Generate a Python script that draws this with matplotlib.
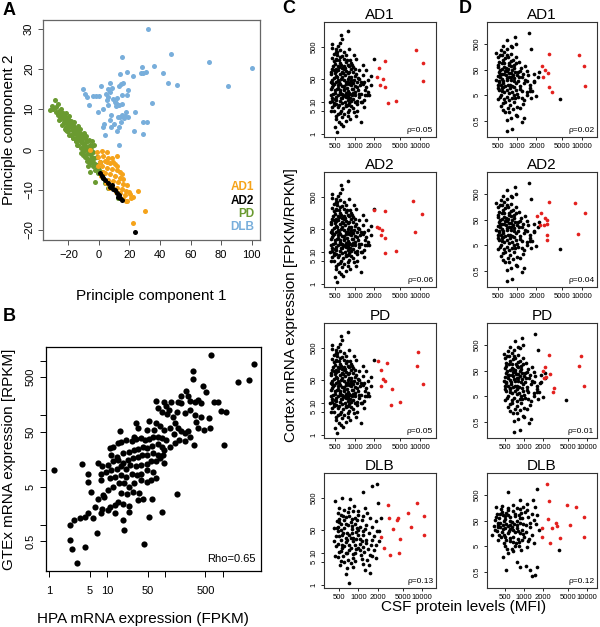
import numpy as np
import matplotlib
matplotlib.use('Agg')
import matplotlib.pyplot as plt
from matplotlib.ticker import NullLocator

# ---------------- data ----------------
# panel A: principal components (PC1, PC2)
pd_pc = [(-28.5, 12.3), (-32.0, 9.9), (-28.1, 9.4), (-26.5, 8.6), (-25.0, 8.2), (-25.9, 7.4), (-23.7, 7.8),
         (-22.8, 6.9), (-24.4, 6.1), (-21.1, 6.5), (-21.5, 5.5), (-19.3, 5.7), (-20.0, 4.5), (-17.8, 4.9),
         (-18.5, 3.6), (-16.3, 4.0), (-16.7, 2.8), (-14.5, 3.2), (-15.0, 2.0), (-12.8, 2.4), (-13.5, 1.0),
         (-11.3, 1.6), (-11.9, 0.3), (-9.7, 0.7), (-10.2, -0.5), (-8.0, -0.1), (-8.4, -1.3), (-6.3, -0.9),
         (-6.9, -2.3), (-4.7, -1.8), (-5.8, -3.4), (-3.6, -3.0), (-4.1, -4.2), (-2.6, -5.1), (-1.5, -3.8),
         (-0.4, -5.9), (-2.6, -8.0), (2.9, -7.1), (4.0, -8.4), (6.2, -9.6), (12.7, -12.0), (-8.0, 2.0),
         (-5.8, 1.1), (-25.5, 9.4), (-22.2, 8.2), (-18.9, 6.9), (-15.6, 5.3), (-12.4, 4.0), (-9.1, 2.8),
         (-16.7, 6.1), (-13.5, 4.9), (-10.6, 3.5), (-7.6, 0.7), (-5.4, -0.1), (-23.3, 9.0), (-20.0, 7.6),
         (-17.8, 6.1), (-14.5, 4.5), (-11.3, 2.6), (-8.4, 1.8), (-4.7, 2.0), (-3.6, -0.5), (-1.5, -1.8),
         (0.7, -3.0), (-0.4, -4.7), (1.8, -5.5), (-5.8, -5.5), (-6.9, -4.2), (-29.8, 10.1), (-25.5, 7.5),
         (-21.5, 4.9), (-21.1, 4.5), (-17.2, 2.8), (-14.1, 1.0), (-10.6, -1.3), (-30.5, 10.8), (-27.8, 10.5),
         (-26.0, 9.6), (-24.2, 8.8), (-22.5, 7.8), (-20.8, 7.2), (-19.0, 6.2), (-17.5, 5.5), (-16.0, 4.8),
         (-14.8, 3.9), (-13.2, 3.3), (-12.0, 2.5), (-10.8, 1.9), (-9.5, 1.2), (-8.8, 0.2), (-7.2, -0.4),
         (-6.0, -1.2), (-4.9, -2.5), (-3.2, -2.0), (-2.5, -3.5), (-1.0, -4.5), (0.3, -5.2), (1.5, -6.3),
         (2.5, -5.8), (-26.8, 11.2), (-24.5, 10.0), (-21.8, 9.0), (-19.8, 8.3), (-18.0, 7.2), (-16.2, 6.8),
         (-14.0, 5.8), (-12.2, 5.0), (-10.0, 4.2), (-8.2, 3.4), (-6.5, 2.4), (-4.5, 0.8), (-3.0, 1.2),
         (-27.0, 9.0), (-23.0, 6.5), (-22.0, 5.0), (-19.5, 3.5), (-15.0, 2.0), (-10.0, 0.0), (-11.5, -0.8),
         (-9.0, -1.8), (-7.5, -2.8)]
ad1_pc = [(-1.5, -0.5), (1.8, -0.3), (5.1, -0.7), (-0.4, -1.8), (2.9, -1.5), (6.2, -2.0), (8.4, -2.2),
          (0.7, -3.0), (4.0, -2.8), (7.3, -3.4), (10.5, -3.7), (1.8, -4.2), (5.1, -4.7), (8.4, -4.8),
          (11.6, -5.1), (13.8, -5.5), (4.0, -5.9), (7.3, -6.2), (10.5, -6.5), (13.8, -7.0), (16.0, -7.3),
          (6.2, -7.6), (9.4, -7.8), (12.7, -8.2), (16.0, -8.6), (18.6, -8.8), (8.4, -9.0), (11.6, -9.5),
          (14.9, -9.8), (17.7, -10.3), (19.9, -10.5), (13.8, -10.9), (17.1, -11.3), (20.3, -11.1),
          (16.0, -12.3), (18.6, -12.8), (20.8, -12.1), (22.5, -11.7), (11.6, -1.5), (25.4, -10.2),
          (30.2, -15.4), (22.1, -18.3), (17.5, -12.7), (-5.8, -0.1), (9.4, -3.0), (12.1, -4.0), (14.9, -6.2),
          (5.1, -3.0), (2.5, -5.5), (11.2, -10.5), (4.6, -8.4), (6.8, -9.6), (-0.4, -4.2), (1.2, -6.7)]
ad2_pc = [(0.7, -5.9), (2.9, -7.1), (6.2, -8.4), (8.4, -8.8), (10.5, -10.0), (13.4, -11.3), (14.9, -12.5),
          (23.6, -20.6), (4.0, -7.5), (11.6, -10.8), (7.3, -9.2), (12.7, -11.8), (1.8, -6.5), (9.4, -9.8),
          (14.0, -12.0)]
dlb_pc = [(32, 30), (15.3, 23.1), (47, 23.7), (72.3, 21.7), (100.4, 20.3), (84.7, 15.9), (28.4, 20.6),
          (35.8, 20.8), (41.7, 19), (45.2, 16.5), (50.9, 16.1), (27.5, 19), (29, 19), (30.5, 19.2), (22, 18.3),
          (18.1, 19.2), (13.7, 18.7), (7.3, 16.5), (14.5, 16.2), (15.5, 16.5), (13.4, 15.8), (19, 14.7),
          (5.7, 15.1), (7.3, 14.2), (8.7, 15.2), (1.1, 15.7), (-10.2, 15.1), (-9.3, 13.9), (-8, 13),
          (-6.3, 11), (-4.1, 13.2), (-1.9, 13.2), (0.1, 13.4), (2.5, 10), (-0.4, 9.4), (6.2, 11.1),
          (10.3, 11.8), (11.6, 12.8), (11.4, 11.5), (13.4, 11.1), (12.1, 11.1), (15.1, 11.4), (5.7, 13),
          (5.1, 12.2), (4.6, 13.8), (9.2, 12.6), (11, 10.7), (8.1, 8.6), (7.5, 7.4), (3.6, 6.3), (9.9, 6.4),
          (13.2, 5.5), (7.7, 5.5), (3.8, 3.5), (17.5, 9.4), (16.2, 7.8), (14, 8.2), (12.3, 8.2), (17.3, 8.4),
          (19.3, 8.1), (23.4, 9.3), (34.7, 11.5), (31.7, 6.8), (28.6, 6.8), (29.1, 3.9), (23, 4.6),
          (13.4, 1.1), (14.5, 6.8), (14.9, 8.6), (11.6, 4.5), (2.9, 5.7), (14.9, 13.6), (18.2, 13.6)]

# panel B: log10 HPA FPKM vs log10 GTEx RPKM
hpa_gtex_log = [(2.79, 3.10), (3.54, 2.94), (2.49, 2.81), (2.49, 2.67), (3.27, 2.61), (3.45, 2.64), (2.65, 2.53),
                (2.71, 2.43), (2.36, 2.45), (2.40, 2.36), (2.44, 2.27), (2.51, 2.25), (2.57, 2.29), (2.62, 2.22),
                (2.28, 2.35), (2.27, 2.22), (1.85, 2.27), (1.98, 2.25), (2.01, 2.17), (2.11, 2.24), (2.23, 2.24),
                (1.88, 2.13), (1.94, 2.07), (2.03, 2.03), (2.06, 2.10), (2.20, 2.06), (2.34, 2.05), (2.43, 2.10),
                (2.51, 2.01), (2.63, 1.98), (2.85, 2.24), (2.91, 2.25), (2.97, 2.09), (3.06, 2.07), (2.76, 1.96),
                (2.77, 1.77), (2.68, 1.74), (3.02, 1.46), (2.50, 1.46), (2.34, 1.54), (2.43, 1.61), (2.53, 1.88),
                (2.57, 1.78), (2.14, 1.98), (2.17, 1.86), (2.23, 1.78), (2.27, 1.72), (2.34, 1.68), (2.40, 1.72),
                (1.72, 1.90), (1.85, 1.86), (1.80, 1.74), (1.91, 1.81), (1.99, 1.74), (2.08, 1.78), (2.16, 1.66),
                (2.24, 1.55), (2.17, 1.49), (2.08, 1.42), (1.49, 1.86), (1.53, 1.77), (1.68, 1.74), (1.22, 1.72),
                (1.46, 1.61), (1.04, 1.40), (1.10, 1.43), (1.18, 1.49), (1.24, 1.52), (1.33, 1.55), (1.42, 1.54),
                (1.49, 1.57), (1.59, 1.58), (1.65, 1.55), (1.72, 1.57), (1.79, 1.61), (1.88, 1.61), (1.95, 1.58),
                (2.02, 1.55), (1.07, 1.28), (1.16, 1.25), (1.27, 1.31), (1.37, 1.34), (1.46, 1.37), (1.54, 1.38),
                (1.62, 1.42), (1.69, 1.40), (1.77, 1.44), (1.87, 1.48), (1.94, 1.43), (1.99, 1.37), (0.84, 1.14),
                (0.91, 1.07), (1.01, 1.10), (1.10, 1.16), (1.18, 1.19), (1.27, 1.13), (1.36, 1.19), (1.45, 1.22),
                (1.53, 1.25), (1.60, 1.28), (1.69, 1.28), (1.79, 1.31), (1.88, 1.28), (1.97, 1.28), (1.99, 1.13),
                (0.90, 0.94), (0.98, 0.97), (1.07, 1.00), (1.17, 1.03), (1.24, 1.07), (1.33, 1.03), (1.40, 1.10),
                (1.50, 1.07), (1.59, 1.10), (1.68, 1.11), (1.76, 1.16), (1.85, 1.16), (1.92, 1.22), (0.66, 0.94),
                (0.90, 0.82), (1.04, 0.85), (1.13, 0.88), (1.24, 0.91), (1.33, 0.88), (1.42, 0.94), (1.52, 0.91),
                (1.59, 0.94), (1.68, 1.00), (1.79, 0.97), (0.66, 0.79), (0.72, 0.61), (0.92, 0.55), (1.01, 0.64),
                (1.10, 0.70), (1.20, 0.76), (1.29, 0.77), (1.37, 0.70), (1.47, 0.76), (1.58, 0.82), (1.68, 0.79),
                (1.76, 0.82), (1.85, 0.85), (0.56, 1.11), (0.84, 0.47), (0.95, 0.52), (1.04, 0.33), (1.13, 0.36),
                (1.24, 0.58), (1.35, 0.57), (1.45, 0.61), (1.55, 0.58), (1.62, 0.47), (0.78, 0.33), (0.91, 0.30),
                (1.01, 0.27), (1.18, 0.42), (1.27, 0.39), (1.37, 0.35), (1.53, 0.46), (0.61, 0.15), (0.66, 0.21),
                (0.75, 0.12), (0.90, 0.21), (1.13, 0.21), (1.27, 0.09), (1.37, 0.24), (0.36, 0.00), (0.43, 0.09),
                (0.53, 0.12), (0.82, -0.15), (1.29, -0.09), (1.72, 0.15), (1.94, 0.24), (2.21, 0.57), (1.77, 0.47),
                (0.35, -0.28), (0.39, -0.43), (0.61, -0.40), (0.48, -0.69), (1.64, -0.34), (0.08, 1.00)]
rho_b = 0.65

# panels C/D: log10 CSF protein level (MFI) vs log10 cortex mRNA
c_black = [(2.89, 3.19), (2.79, 3.09), (2.80, 2.94), (2.78, 2.82), (2.66, 2.67), (2.71, 2.65), (2.73, 2.56),
           (2.91, 2.63), (2.73, 2.44), (2.81, 2.42), (2.84, 2.33), (2.76, 2.28), (2.86, 2.23), (2.94, 2.21),
           (2.70, 2.18), (2.79, 2.13), (2.89, 2.13), (2.97, 2.07), (2.66, 2.02), (2.75, 1.97), (2.84, 2.00),
           (2.91, 1.92), (3.02, 1.87), (3.12, 2.13), (3.18, 1.99), (3.30, 2.33), (3.07, 1.71), (2.99, 1.66),
           (2.89, 1.71), (2.81, 1.76), (2.71, 1.81), (2.66, 1.66), (2.76, 1.61), (2.86, 1.55), (2.94, 1.50),
           (3.04, 1.45), (3.12, 1.55), (3.21, 1.66), (3.25, 1.81), (2.66, 1.45), (2.73, 1.38), (2.84, 1.35),
           (2.91, 1.27), (3.00, 1.31), (3.09, 1.24), (3.18, 1.45), (2.63, 1.19), (2.72, 1.14), (2.81, 1.11),
           (2.89, 1.06), (2.97, 1.09), (3.07, 1.14), (3.16, 1.19), (3.25, 1.50), (2.68, 0.96), (2.76, 0.90),
           (2.86, 0.88), (2.94, 0.86), (3.04, 0.93), (2.66, 0.82), (2.79, 0.72), (2.89, 0.67), (2.99, 0.67),
           (3.09, 0.98), (3.19, 1.21), (2.71, 0.56), (2.81, 0.51), (2.76, 0.36), (2.89, 0.56), (3.02, 0.56),
           (2.79, 0.30), (2.73, 0.04), (3.10, 0.36), (2.66, 1.03), (2.63, 1.61), (2.63, 1.92), (2.71, 2.33),
           (3.02, 2.33), (3.07, 1.97), (3.22, 1.19), (3.14, 0.82), (2.85, 1.19), (2.94, 1.76), (2.77, 1.24),
           (2.71, 0.46), (2.68, 2.25), (2.74, 2.10), (2.80, 2.05), (2.87, 1.95), (2.70, 1.90), (2.78, 1.85),
           (2.85, 1.82), (2.92, 1.78), (2.69, 1.72), (2.75, 1.68), (2.83, 1.66), (2.90, 1.62), (2.97, 1.58),
           (2.68, 1.55), (2.74, 1.50), (2.80, 1.47), (2.88, 1.43), (2.96, 1.40), (2.70, 1.35), (2.78, 1.30),
           (2.86, 1.28), (2.93, 1.22), (2.67, 1.25), (2.74, 1.20), (2.82, 1.17), (2.90, 1.14), (2.70, 1.08),
           (2.78, 1.02), (2.85, 0.98), (2.92, 0.95), (2.72, 0.92), (2.82, 0.80), (2.95, 1.02), (3.00, 1.20),
           (3.05, 1.35), (3.10, 1.60), (3.00, 1.80), (2.95, 2.00), (2.78, 2.40), (2.83, 2.55), (2.69, 2.48),
           (2.99, 2.45), (3.13, 1.83), (3.16, 1.35), (3.04, 1.03), (2.87, 0.40), (2.64, 0.70), (2.93, 2.30),
           (2.75, 0.62), (3.15, 1.05), (2.65, 2.35), (2.72, 2.30), (2.77, 2.20), (2.83, 2.12), (2.88, 2.28),
           (2.96, 2.15), (2.67, 2.12), (2.72, 2.02), (2.81, 1.93), (2.89, 1.88), (2.97, 1.92), (2.64, 1.85),
           (2.73, 1.78), (2.79, 1.70), (2.87, 1.62), (2.95, 1.68), (3.03, 1.62), (2.65, 1.58), (2.72, 1.62),
           (2.78, 1.55), (2.84, 1.48), (2.92, 1.55), (3.00, 1.48), (2.63, 1.38), (2.70, 1.28), (2.77, 1.35),
           (2.83, 1.40), (2.90, 1.32), (2.97, 1.28), (3.06, 1.22), (2.65, 1.12), (2.72, 1.05), (2.79, 1.12),
           (2.87, 1.15), (2.93, 1.10), (3.01, 1.00), (2.68, 0.88), (2.74, 0.82), (2.80, 0.95), (2.90, 0.90),
           (2.98, 0.80), (2.69, 0.70), (2.77, 0.65), (2.84, 0.60), (2.92, 0.75), (2.68, 1.98), (2.76, 2.08),
           (2.85, 2.05), (2.92, 2.10), (3.01, 2.02), (2.71, 2.55), (2.77, 2.62), (2.86, 2.45), (2.66, 2.78),
           (2.74, 2.72), (2.96, 1.20), (3.08, 1.50), (3.14, 1.62), (3.20, 1.30), (3.11, 0.98), (3.04, 0.70),
           (2.82, 0.25), (2.70, 0.20), (2.93, 0.45), (2.67, 1.50), (2.75, 1.42), (2.81, 1.25), (2.89, 1.20),
           (2.62, 1.00), (2.94, 1.62), (2.71, 1.95), (2.82, 1.88), (3.05, 1.72), (2.98, 1.38), (2.87, 0.85)]
c_black_dlb = [(3.30, 3.14), (3.22, 3.06), (3.08, 2.89), (3.31, 2.56), (2.64, 2.62), (2.75, 2.70), (2.87, 2.68),
               (2.70, 2.39), (2.77, 2.34), (2.84, 2.26), (2.91, 2.30), (2.72, 2.18), (2.81, 2.10), (2.90, 2.05),
               (2.99, 2.18), (3.07, 2.13), (3.14, 2.23), (3.19, 2.07), (3.27, 1.97), (2.66, 1.97), (2.73, 1.89),
               (2.84, 1.85), (2.94, 1.89), (3.02, 1.81), (3.12, 1.87), (3.22, 1.81), (3.30, 1.66), (2.68, 1.66),
               (2.76, 1.61), (2.86, 1.55), (2.96, 1.64), (3.07, 1.55), (3.17, 1.61), (3.25, 1.50), (3.32, 1.35),
               (2.72, 1.40), (2.81, 1.32), (2.91, 1.35), (3.02, 1.26), (3.12, 1.29), (3.20, 1.22), (2.65, 1.19),
               (2.75, 1.14), (2.86, 1.08), (2.96, 1.11), (3.09, 1.03), (3.18, 0.93), (2.76, 0.88), (2.84, 0.77),
               (2.91, 0.82), (3.04, 0.93), (3.14, 0.77), (2.71, 0.62), (2.82, 0.51), (2.91, 0.56), (2.80, 0.32),
               (3.17, 0.62), (3.19, 0.35), (2.85, 0.04), (2.61, 1.35), (2.63, 0.88), (3.02, 1.08), (3.25, 1.08),
               (3.27, 0.82), (3.35, 2.07), (3.32, 1.66), (2.61, 1.76), (2.70, 2.05), (2.78, 2.00), (2.88, 1.95),
               (2.98, 2.00), (2.68, 1.80), (2.78, 1.75), (2.90, 1.72), (3.00, 1.70), (3.10, 1.72), (2.70, 1.50),
               (2.80, 1.45), (2.92, 1.45), (3.02, 1.42), (3.12, 1.40), (2.75, 1.25), (2.85, 1.22), (2.95, 1.25),
               (3.07, 1.16), (2.70, 1.02), (2.80, 0.98), (2.95, 0.97), (3.05, 0.80), (2.88, 0.68), (2.73, 0.75),
               (3.10, 0.45), (3.22, 1.40), (2.68, 2.22), (2.76, 2.15), (2.86, 2.15), (2.95, 2.08), (3.05, 2.00),
               (2.70, 1.95), (2.80, 1.90), (2.90, 1.82), (2.98, 1.75), (3.08, 1.68), (2.66, 1.78), (2.73, 1.70),
               (2.82, 1.62), (2.90, 1.60), (3.00, 1.55), (2.65, 1.50), (2.74, 1.55), (2.82, 1.40), (2.88, 1.45),
               (2.97, 1.42), (3.06, 1.35), (2.68, 1.28), (2.78, 1.20), (2.88, 1.15), (3.00, 1.15), (3.15, 1.10),
               (2.72, 1.05), (2.82, 1.00), (2.92, 0.95), (2.68, 0.85), (2.78, 0.70), (2.95, 0.75), (3.08, 0.65),
               (3.22, 0.90), (3.28, 1.25), (2.85, 2.40), (2.93, 2.45), (3.00, 2.30), (3.10, 2.40)]
c_red_ad1 = [(3.37, 2.05), (3.46, 2.26), (3.34, 1.75), (3.44, 1.69), (3.38, 1.53), (3.47, 1.46), (3.51, 0.96),
             (3.63, 1.02), (3.94, 2.62), (4.04, 2.20), (4.04, 1.63)]
c_red_ad2 = [(3.29, 2.28), (3.47, 2.25), (3.34, 1.76), (3.37, 1.73), (3.42, 1.68), (3.41, 1.50), (3.46, 1.42),
             (3.47, 0.96), (3.63, 1.03), (3.90, 2.59), (4.03, 2.18), (3.93, 1.61)]
c_red_pd = [(3.35, 2.28), (3.49, 2.23), (3.41, 2.02), (3.43, 1.74), (3.47, 1.66), (3.41, 1.50), (3.57, 1.43),
            (3.55, 0.93), (3.69, 1.01), (3.97, 2.57), (3.95, 2.15), (4.05, 1.57)]
c_red_dlb = [(3.46, 2.47), (3.48, 2.07), (3.63, 2.07), (3.61, 2.02), (3.54, 1.73), (3.78, 2.22), (3.92, 2.55),
             (3.82, 1.80), (4.03, 2.15), (4.03, 1.55), (3.66, 1.43), (3.36, 1.49), (3.40, 1.14), (3.50, 0.93),
             (3.64, 0.98)]
c_rho = [0.05, 0.06, 0.05, 0.13]

d_black = [(2.85, 2.84), (2.97, 2.96), (2.98, 2.71), (3.18, 3.12), (3.22, 2.50), (2.93, 2.57), (2.80, 2.39),
           (2.73, 2.28), (2.84, 2.28), (2.91, 2.31), (2.98, 2.18), (3.03, 1.99), (3.13, 1.83), (2.78, 2.09),
           (2.71, 1.89), (2.87, 1.96), (2.95, 1.89), (3.06, 1.76), (3.16, 1.66), (2.73, 1.70), (2.82, 1.63),
           (2.91, 1.56), (3.00, 1.50), (3.08, 1.43), (3.17, 1.50), (3.27, 1.53), (3.34, 1.60), (3.33, 1.43),
           (2.74, 1.40), (2.85, 1.30), (2.95, 1.26), (3.02, 1.24), (3.11, 1.17), (3.20, 1.11), (3.27, 1.24),
           (2.70, 1.11), (2.78, 1.04), (2.89, 0.98), (2.98, 0.91), (3.07, 0.85), (3.15, 0.82), (3.24, 0.85),
           (2.75, 0.72), (2.84, 0.65), (2.93, 0.59), (3.02, 0.65), (3.11, 0.52), (3.22, 0.61), (3.30, 0.69),
           (2.81, 0.43), (2.89, 0.33), (3.00, 0.26), (3.10, 0.35), (2.78, 0.13), (2.88, 0.04), (2.98, -0.07),
           (2.84, -0.26), (3.00, -0.10), (3.11, -0.17), (3.08, -0.35), (2.93, -0.61), (2.84, -0.69),
           (3.26, 1.21), (3.20, 0.85), (2.95, 1.76), (2.76, 1.95), (2.80, 1.80), (2.86, 1.72), (2.90, 1.85),
           (2.76, 1.55), (2.83, 1.48), (2.88, 1.40), (2.96, 1.38), (2.72, 1.25), (2.79, 1.18), (2.86, 1.12),
           (2.92, 1.05), (3.05, 1.08), (2.72, 0.90), (2.80, 0.82), (2.88, 0.78), (2.95, 0.70), (2.77, 1.00),
           (2.82, 2.15), (2.90, 2.05), (3.05, 1.65), (3.12, 1.30), (2.70, 0.55), (2.95, 0.45), (2.75, 0.30),
           (3.66, 0.57), (2.70, 2.20), (2.76, 2.28), (2.86, 2.20), (2.94, 2.08), (2.72, 2.00), (2.80, 1.98),
           (2.88, 1.90), (2.98, 1.95), (2.70, 1.80), (2.77, 1.72), (2.85, 1.65), (2.93, 1.70), (3.01, 1.62),
           (2.72, 1.60), (2.80, 1.52), (2.87, 1.58), (2.94, 1.48), (3.03, 1.40), (2.70, 1.45), (2.77, 1.32),
           (2.84, 1.38), (2.91, 1.30), (2.99, 1.18), (2.68, 1.30), (2.75, 1.12), (2.82, 1.05), (2.89, 1.12),
           (2.96, 1.02), (3.04, 0.95), (2.70, 0.98), (2.77, 0.88), (2.85, 0.90), (2.92, 0.82), (3.00, 0.75),
           (2.73, 0.62), (2.80, 0.55), (2.88, 0.50), (2.97, 0.58), (3.07, 0.60), (2.78, 0.40), (2.86, 0.22),
           (2.94, 0.15), (2.82, 0.05), (2.75, 2.45), (2.84, 2.50), (2.90, 2.62), (2.78, 2.62), (2.68, 2.35),
           (2.72, 1.20), (2.97, 1.60), (3.10, 1.55), (3.15, 1.25), (3.20, 1.00), (3.15, 0.70), (2.90, -0.20),
           (3.05, 0.20), (2.74, 1.55), (2.83, 1.78), (2.91, 1.42), (2.79, 1.25)]
d_black_dlb = [(3.20, 2.93), (2.74, 2.80), (2.94, 2.50), (3.04, 2.37), (3.14, 2.50), (3.17, 2.24), (2.56, 2.24),
               (2.65, 2.27), (2.74, 2.18), (2.83, 2.31), (2.93, 2.14), (3.02, 2.05), (2.57, 1.98), (2.67, 1.92),
               (2.77, 1.85), (2.86, 1.98), (2.96, 1.79), (3.07, 1.85), (3.16, 1.72), (3.21, 1.92), (2.53, 1.72),
               (2.62, 1.62), (2.71, 1.57), (2.80, 1.66), (2.89, 1.53), (2.99, 1.59), (3.09, 1.46), (3.19, 1.57),
               (2.54, 1.33), (2.65, 1.27), (2.74, 1.20), (2.83, 1.33), (2.94, 1.20), (3.03, 1.27), (3.12, 1.14),
               (2.59, 0.94), (2.68, 0.84), (2.78, 0.91), (2.87, 0.81), (2.96, 0.94), (2.73, 0.61), (2.83, 0.52),
               (2.67, 0.29), (2.75, 0.42), (2.88, 0.09), (2.94, -0.10), (3.03, -0.08), (3.09, -0.23),
               (3.20, -0.10), (3.17, -0.43), (3.12, -0.47), (2.71, -0.23), (2.59, 1.46), (3.23, 1.33),
               (3.15, 0.81), (3.04, 0.68), (2.83, 1.07), (2.49, 1.14), (2.93, 1.79), (2.80, 1.46), (2.60, 1.80),
               (2.70, 1.75), (2.78, 1.70), (2.88, 1.68), (2.62, 1.45), (2.70, 1.40), (2.78, 1.38), (2.88, 1.40),
               (2.97, 1.35), (2.60, 1.15), (2.70, 1.08), (2.78, 1.02), (2.90, 1.00), (3.00, 1.05), (2.65, 2.05),
               (2.72, 2.00), (2.82, 2.08), (2.92, 1.92), (3.10, 1.60), (2.85, 0.70), (2.95, 0.55), (3.08, 1.00),
               (2.58, 1.60), (2.68, 1.15), (3.56, 0.55), (2.55, 1.85), (2.62, 1.95), (2.69, 1.88), (2.75, 1.93),
               (2.85, 1.88), (2.95, 2.00), (2.58, 1.55), (2.66, 1.52), (2.74, 1.48), (2.84, 1.58), (2.93, 1.62),
               (3.03, 1.52), (2.57, 1.30), (2.66, 1.38), (2.76, 1.30), (2.86, 1.25), (2.98, 1.18), (2.63, 1.05),
               (2.72, 0.95), (2.82, 0.88), (2.92, 0.85), (3.06, 0.90), (2.64, 2.15), (2.75, 2.10), (2.88, 2.20),
               (2.98, 2.25), (2.70, 0.70), (2.80, 0.60), (2.92, 0.70), (2.78, 1.55), (3.12, 1.95), (3.05, 2.12),
               (2.90, 1.28), (2.68, 1.70), (2.52, 1.50)]
d_red_ad1 = [(3.49, 2.31), (3.38, 1.85), (3.43, 1.70), (3.48, 1.56), (3.41, 1.43), (3.50, 1.04), (3.54, 0.82),
             (3.96, 2.26), (4.04, 1.86), (4.05, 1.07)]
d_red_ad2 = [(3.31, 1.85), (3.37, 1.98), (3.35, 1.50), (3.42, 1.50), (3.43, 1.76), (3.47, 1.70), (3.46, 1.53),
             (3.50, 2.40), (3.47, 1.11), (3.47, 0.90), (3.90, 2.35), (4.06, 1.96), (3.94, 1.16)]
d_red_pd = [(3.40, 2.33), (3.33, 1.83), (3.30, 1.68), (3.35, 1.46), (3.31, 1.40), (3.42, 1.56), (3.47, 1.04),
            (3.46, 0.85), (3.90, 2.27), (3.87, 1.88), (3.96, 1.10)]
d_red_dlb = [(3.37, 3.12), (3.39, 2.46), (3.69, 2.31), (3.83, 2.24), (3.95, 1.85), (3.38, 1.76), (3.28, 1.42),
             (3.28, 1.07), (3.45, 1.42), (3.51, 1.62), (3.52, 1.51), (3.73, 1.55), (3.57, 1.03), (3.95, 1.07),
             (3.41, 0.81)]
d_rho = [0.02, 0.04, 0.01, 0.12]

groups = ['AD1', 'AD2', 'PD', 'DLB']
group_colors = {'AD1': '#f5a31a', 'AD2': '#000000', 'PD': '#6a9a30', 'DLB': '#78aedb'}

# ---------------- layout ----------------
W, H = 600, 627
plt.rcParams['font.family'] = ['Liberation Sans', 'DejaVu Sans']
NARROW = ['Liberation Sans Narrow', 'Liberation Sans', 'DejaVu Sans']
RED = '#e3211e'

fig = plt.figure(figsize=(W / 100, H / 100), dpi=100)


def box(l, t, r, b):
    return fig.add_axes([l / W, 1 - b / H, (r - l) / W, (b - t) / H])


def ftext(x, y, s, **kw):
    fig.text(x / W, 1 - y / H, s, **kw)


def rot_yticks(ax):
    for lab in ax.get_yticklabels():
        lab.set_rotation(90)
        lab.set_va('center')


# panel A
ax = box(43, 20, 260, 240)
for name, pts in [('PD', pd_pc), ('AD1', ad1_pc), ('AD2', ad2_pc), ('DLB', dlb_pc)]:
    x, y = np.array(pts).T
    ax.scatter(x, y, s=13, color=group_colors[name], lw=0, zorder=2)
ax.set_xlim(-36.6, 105.4)
ax.set_ylim(-22.5, 32.2)
ax.set_xticks(range(-20, 101, 20))
ax.set_yticks(range(-20, 31, 10))
ax.tick_params(labelsize=8, length=3.5, width=0.7, color='#555555', pad=4)
ax.tick_params(axis='y', pad=3)
rot_yticks(ax)
for sp in ax.spines.values():
    sp.set_color('#666666')
    sp.set_linewidth(0.9)
for i, name in enumerate(groups):
    ftext(254, 187 + i * 13.5, name, ha='right', va='center', fontsize=8.5, fontweight='bold',
          color=group_colors[name])
ftext(151, 296, 'Principle component 1', ha='center', va='center', fontsize=11)
ftext(9, 130, 'Principle component 2', ha='center', va='center', rotation=90, fontsize=11)

# panel B
ax = box(46, 347, 261, 571)
bx, by = np.array(hpa_gtex_log).T
ax.scatter(10 ** bx, 10 ** by, s=20, color='black', lw=0)
ax.set_xscale('log')
ax.set_yscale('log')
ax.set_xlim(10 ** -0.06, 10 ** 3.66)
ax.set_ylim(10 ** -0.84, 10 ** 3.25)
ax.set_xticks([1, 5, 10, 50, 100, 500, 1000], ['1', '5', '10', '50', '', '500', ''])
ax.set_yticks([0.5, 1, 5, 10, 50, 100, 500, 1000], ['0.5', '', '5', '', '50', '', '500', ''])
ax.xaxis.set_minor_locator(NullLocator())
ax.yaxis.set_minor_locator(NullLocator())
ax.tick_params(labelsize=8, length=4.5, width=0.7, pad=6)
ax.tick_params(axis='y', pad=3)
rot_yticks(ax)
for sp in ax.spines.values():
    sp.set_linewidth(0.9)
ax.text(0.975, 0.055, f'Rho={rho_b}', transform=ax.transAxes, ha='right', va='center', fontsize=8)
ftext(143, 619, 'HPA mRNA expression (FPKM)', ha='center', va='center', fontsize=11)
ftext(9, 459, 'GTEx mRNA expression [RPKM]', ha='center', va='center', rotation=90, fontsize=11)

# panels C and D
tops = [22, 172, 323, 473]
c_sets = [(c_black, c_red_ad1), (c_black, c_red_ad2), (c_black, c_red_pd), (c_black_dlb, c_red_dlb)]
d_sets = [(d_black, d_red_ad1), (d_black, d_red_ad2), (d_black, d_red_pd), (d_black_dlb, d_red_dlb)]
c_xlims = [(2.53, 4.245), (2.53, 4.245), (2.53, 4.245), (2.46, 4.22)]
d_xlims = [(2.535, 4.24), (2.535, 4.24), (2.41, 4.16), (2.41, 4.16)]


def small_panel(l, r, t, title, black, red, rho, xl, yl, yt, ytl):
    ax = box(l, t, r, t + 115)
    x, y = np.array(black).T
    ax.scatter(10 ** x, 10 ** y, s=7, color='black', lw=0)
    x, y = np.array(red).T
    ax.scatter(10 ** x, 10 ** y, s=7, color=RED, lw=0)
    ax.set_xscale('log')
    ax.set_yscale('log')
    ax.set_xlim(10 ** xl[0], 10 ** xl[1])
    ax.set_ylim(10 ** yl[0], 10 ** yl[1])
    ax.set_xticks([500, 1000, 2000, 5000, 10000], ['500', '1000', '2000', '5000', '10000'])
    ax.set_yticks(yt, ytl)
    ax.xaxis.set_minor_locator(NullLocator())
    ax.yaxis.set_minor_locator(NullLocator())
    ax.tick_params(labelsize=5.5, length=2.5, width=0.6, pad=2)
    for lab in ax.get_xticklabels() + ax.get_yticklabels():
        lab.set_family(NARROW)
    rot_yticks(ax)
    for sp in ax.spines.values():
        sp.set_linewidth(0.8)
        sp.set_color('#333333')
    ax.set_title(title, fontsize=11, pad=2.5, family=NARROW)
    ax.text(0.975, 0.03, f'ρ={rho:.2f}', transform=ax.transAxes, ha='right', va='bottom',
            fontsize=6, family=NARROW)


for i, g in enumerate(groups):
    small_panel(324, 436, tops[i], g, c_sets[i][0], c_sets[i][1], c_rho[i], c_xlims[i], (-0.106, 3.48),
                [1, 5, 10, 50, 500], ['1', '5', '10', '50', '500'])
    small_panel(487, 597, tops[i], g, d_sets[i][0], d_sets[i][1], d_rho[i], d_xlims[i], (-0.926, 3.56),
                [0.5, 5, 50, 500], ['0.5', '5', '50', '500'])

ftext(291, 305, 'Cortex mRNA expression [FPKM/RPKM]', ha='center', va='center', rotation=90, fontsize=11)
ftext(464, 607, 'CSF protein levels (MFI)', ha='center', va='center', fontsize=11)

# panel letters
for letter, (x, y) in zip('ABCD', [(3, 2), (3, 308), (282, 0), (459, 0)]):
    ftext(x, y, letter, ha='left', va='top', fontsize=13, fontweight='bold')

fig.savefig('out.png', dpi=100)
